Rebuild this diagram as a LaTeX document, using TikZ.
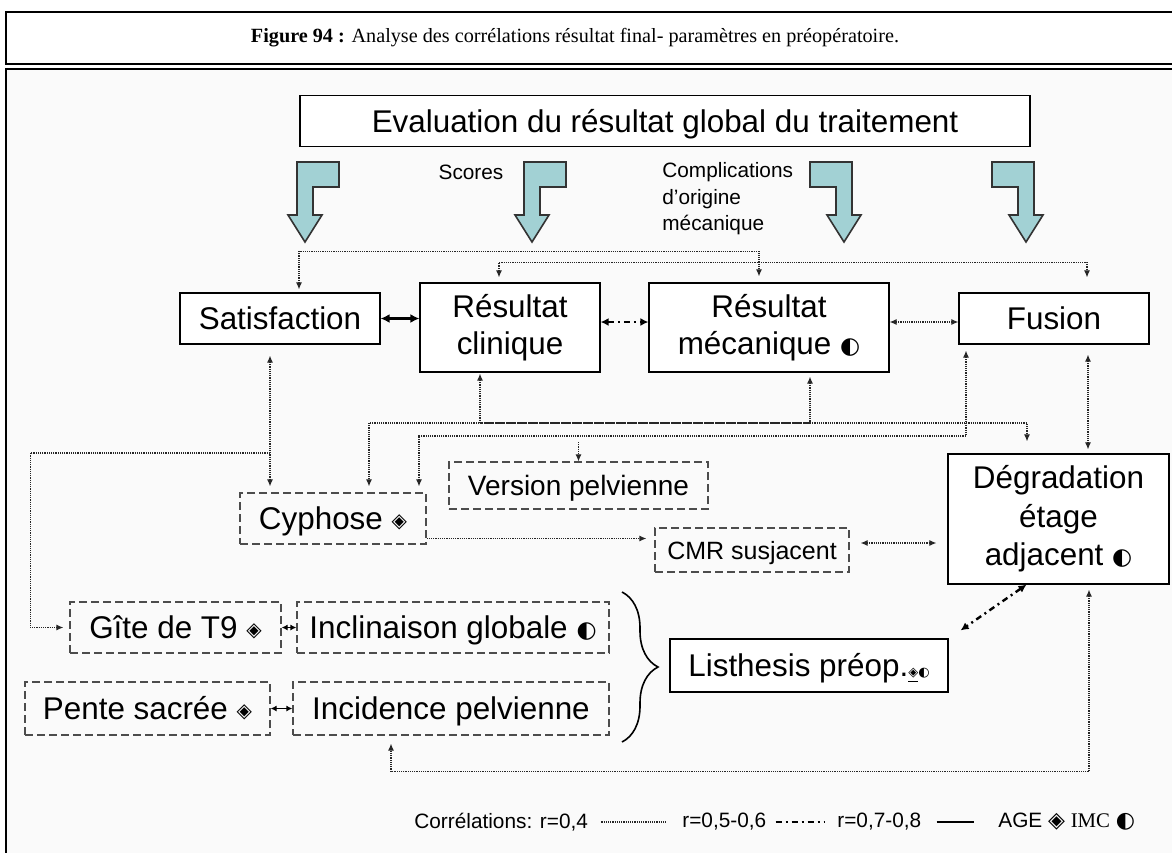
\documentclass[tikz,border=0pt]{standalone}
\usepackage{fontspec}
\setmainfont{Liberation Sans}
\newfontfamily\capfont{Liberation Serif}
\newfontfamily\symfont{DejaVu Sans}
\usetikzlibrary{arrows.meta, positioning, decorations.pathreplacing}
\definecolor{arrowfill}{RGB}{162,209,212}
\definecolor{panel}{RGB}{250,250,250}
\newcommand{\agesym}{\raisebox{1pt}{\symfont\fontsize{10}{10}\selectfont ◈}}
\newcommand{\imcsym}{\raisebox{0.5pt}{\symfont\fontsize{11.5}{11.5}\selectfont ◐}}

\begin{document}
\begin{tikzpicture}[
        x=0.5pt, y=-0.5pt,
        font=\fontsize{15.7}{18.7}\selectfont,
        box/.style={draw, line width=0.6pt, fill=white, align=center, inner sep=0pt},
        dbox/.style={draw=black!70, dash pattern=on 4pt off 2pt, line width=0.6pt, align=center, inner sep=0pt},
        one/.style={text height=11.3pt, text depth=0pt},
        lbl/.style={font=\fontsize{10.4}{13.25}\selectfont, inner sep=0pt},
        bent/.style={fill=arrowfill, draw=black!80, line width=0.8pt, line join=miter},
        cor4/.style={line width=0.55pt, black!85, dash pattern=on 0.6pt off 0.5pt},
        cor5/.style={line width=1.2pt, dash pattern=on 3pt off 2pt on 1pt off 2pt, >={Latex[length=4pt,width=4pt]}},
        cor7/.style={line width=1.3pt, >={Latex[length=4.5pt,width=4.5pt]}},
        small/.style={line width=0.9pt, >={Latex[length=3pt,width=3pt]}},
        >={Latex[length=3.5pt,width=3pt]}
        ]
        \useasboundingbox (0,0) rectangle (1172,852);
        % frames
        \draw[line width=0.8pt] (6,12) rectangle (1190,64);
        \draw[line width=1.2pt, fill=panel] (6,69) rectangle (1190,870);
        \node[font=\capfont\fontsize{10.1}{12}\selectfont] (cap) at (575,38)
            {\textbf{Figure 94 :} Analyse des corrélations résultat final- paramètres en préopératoire.};
        % header
        \node[box, one, minimum width=365pt, minimum height=25.5pt] (eval) at (665,121) {Evaluation du résultat global du traitement};
        \foreach \x/\s in {305/1, 532/1, 844/-1, 1026/-1}
            \draw[bent, shift={(\x,162)}, xscale=\s] (-8,0) -- (34,0) -- (34,25) -- (8,25) -- (8,53)
                -- (17,53) -- (0,80) -- (-17,53) -- (-8,53) -- cycle;
        \node[lbl] (scores) at (471,172) {Scores};
        \node[lbl, anchor=west, align=left] (compl) at (662,199) {Complications\\d’origine\\mécanique};
        % results
        \node[box, one, minimum width=100pt, minimum height=25.5pt] (sat) at (280,318.5) {Satisfaction};
        \node[box, minimum width=90pt, minimum height=44.5pt] (rc) at (510,327.5) {Résultat\\clinique};
        \node[box, minimum width=120pt, minimum height=44.5pt] (rm) at (769,327.5) {Résultat\\mécanique \imcsym};
        \node[box, one, minimum width=95pt, minimum height=25.5pt] (fus) at (1054,318.5) {Fusion};
        % parameters
        \node[dbox, one, minimum width=93pt, minimum height=25.5pt] (cyp) at (333,518.5) {Cyphose \agesym};
        \node[dbox, minimum width=129.5pt, minimum height=23.5pt, text height=10pt, text depth=0pt,
            font=\fontsize{14}{16}\selectfont] (ver) at (578.5,485.5) {Version pelvienne};
        \node[dbox, minimum width=97pt, minimum height=22pt, text height=9pt, text depth=0pt,
            font=\fontsize{12.5}{15}\selectfont] (cmr) at (752,550) {CMR susjacent};
        \node[box, minimum width=110.5pt, minimum height=65pt, font=\fontsize{15.7}{19.25}\selectfont] (deg) at (1058.5,519) {Dégradation\\étage\\adjacent \imcsym};
        \node[dbox, one, minimum width=105.5pt, minimum height=25.5pt] (gite) at (175.5,627.5) {Gîte de T9 \agesym};
        \node[dbox, one, minimum width=156pt, minimum height=25.5pt] (incl) at (453,627.5) {Inclinaison globale \imcsym};
        \node[dbox, one, minimum width=122.5pt, minimum height=26.5pt] (pente) at (147.5,708.5) {Pente sacrée \agesym};
        \node[dbox, one, minimum width=158pt, minimum height=26.5pt] (inci) at (451,708.5) {Incidence pelvienne};
        \node[box, one, minimum width=139pt, minimum height=26.5pt] (lis) at (809,665.5)
            {Listhesis préop.{\symfont\fontsize{6.5}{6.5}\selectfont\underline{◈}◐}};
        \draw[line width=0.8pt, decorate, decoration={brace, amplitude=18pt}] (622,592) -- (622,742);
        % correlations, first row
        \draw[cor7, <->] (sat.east) -- (sat.east -| rc.west);
        \draw[cor5, <->] ([yshift=2.75pt]rc.east) -- ([yshift=2.75pt]rm.west);
        \draw[cor4, <->] ([yshift=2.75pt]rm.east) -- ([yshift=2.75pt]rm.east -| fus.west);
        \draw[cor4, <->, shorten <=1.5pt, shorten >=3pt] ([xshift=9.5pt]sat.north) -- ++(0,-41) -| ([xshift=-5pt]rm.north);
        \draw[cor4, <->, shorten <=2.5pt, shorten >=7.5pt] ([xshift=-5.5pt]rc.north) -- ++(0,-20) -| ([xshift=16.5pt]fus.north);
        % correlations, down to the parameters
        \coordinate (gj) at (270,453);
        \coordinate (n1) at (480,423);
        \coordinate (n2) at (966,436);
        \draw[cor4, <->, shorten <=5.5pt, shorten >=3pt] ([xshift=-5pt]sat.south) -- ([xshift=-5pt]sat.south |- cyp.north);
        \draw[cor4, ->, shorten >=3pt] (gj) -| ([xshift=-19.5pt]gite.west) -- (gite.west);
        \draw[cor4, <->, shorten <=0.5pt, shorten >=3pt] ([xshift=-15pt]rc.south) -- (n1) -| ([xshift=18pt]cyp.north);
        \draw[cor4, <-, shorten <=2pt] ([xshift=20.5pt]rm.south) |- (n1);
        \draw[cor4, ->, shorten >=6pt] (n1) -| ([xshift=-15.75pt]deg.north);
        \draw[cor4, <->, shorten <=3pt, shorten >=3pt] ([xshift=-44pt]fus.south) -- (n2) -| ([xshift=43pt]cyp.north);
        \draw[cor4, ->, shorten <=3pt] (ver.north |- n2) -- (ver.north);
        \draw[cor4, <->, shorten <=5pt, shorten >=2pt] ([xshift=17pt]fus.south) -- ([xshift=17pt]fus.south |- deg.north);
        \draw[cor4, ->, shorten >=4pt] ([yshift=-10pt]cyp.east) -- ([yshift=-10pt]cyp.east -| cmr.west);
        \draw[cor4, <->, shorten <=5.5pt, shorten >=5.5pt] ([yshift=3.5pt]cmr.east) -- ([yshift=3.5pt]cmr.east -| deg.west);
        \draw[cor5, <->] ([xshift=-16pt]deg.south) -- ([shift={(6pt,4pt)}]lis.north east);
        \draw[cor4, <->, shorten <=2.5pt, shorten >=4pt] ([xshift=15.25pt]deg.south) -- ++(0,187) -| ([xshift=-30pt]inci.south);
        \draw[small, <->] (gite.east) -- (incl.west);
        \draw[small, <->] (pente.east) -- (inci.west);
        % legend
        \node[lbl, anchor=west] (l4) at (414,822) {Corrélations: r=0,4};
        \node[lbl, anchor=west] (l5) at (682,822) {r=0,5-0,6};
        \node[lbl, anchor=west] (l7) at (837,822) {r=0,7-0,8};
        \node[lbl, anchor=west] (lsym) at (998,822)
            {AGE {\symfont\fontsize{11}{11}\selectfont ◈} {\capfont IMC} {\symfont\fontsize{11}{11}\selectfont ◐}};
        \draw[cor4] ([xshift=6.5pt]l4.east) -- ([xshift=-8pt]l5.west);
        \draw[cor5] ([xshift=4.5pt]l5.east) -- ([xshift=-6.5pt]l7.west);
        \draw[cor7] ([xshift=7.5pt]l7.east) -- ([xshift=-12pt]lsym.west);
    \end{tikzpicture}
\end{document}
